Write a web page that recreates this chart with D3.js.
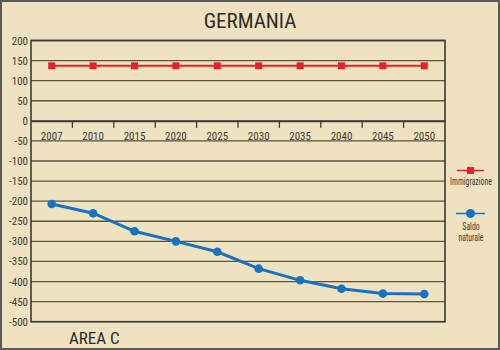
<!DOCTYPE html>
<html><head><meta charset="utf-8">
<script src="https://cdn.jsdelivr.net/npm/d3@7"></script>
<style>
html,body{margin:0;padding:0;background:#eee2c1;}
svg{display:block;}
text{font-family:"Liberation Sans Narrow","Roboto Condensed","Arial Narrow",Roboto,sans-serif;}
</style></head>
<body>
<svg id="c" width="500" height="350"></svg>
<script>
const years = ["2007","2010","2015","2020","2025","2030","2035","2040","2045","2050"];
const immigrazione = [137,137,137,137,137,137,137,137,137,137];
const saldoNaturale = [-207,-230,-275,-300,-326,-368,-397,-418,-430,-431];
const yTicks = [200,150,100,50,0,-50,-100,-150,-200,-250,-300,-350,-400,-450,-500];

const svg = d3.select("#c");
const W = 500, H = 350;
const L = 31, R = 445, T = 40.5, B = 321.7;
const grid = "#5b5242";

svg.append("rect").attr("x",1).attr("y",1).attr("width",W-2).attr("height",H-2)
  .attr("fill","#eee2c1").attr("stroke","#5a5a5a").attr("stroke-width",2);

const x = d3.scaleBand().domain(years).range([L,R]).padding(0);
const y = d3.scaleLinear().domain([-500,200]).range([B,T]);

// gridlines
svg.append("g").selectAll("line").data(yTicks).join("line")
  .attr("x1",L).attr("x2",R).attr("y1",d=>y(d)).attr("y2",d=>y(d))
  .attr("stroke",grid).attr("stroke-width",1.3);

// y axis labels
const ya = svg.append("g").attr("transform",`translate(${L},0)`)
  .call(d3.axisLeft(y).tickValues(yTicks).tickSize(0).tickPadding(3).tickFormat(d=>String(d)));
ya.select(".domain").remove();
ya.selectAll("text").attr("font-size",11).attr("fill","#3c3a36")
  .attr("font-family",'"Liberation Sans Narrow","Roboto Condensed",Roboto,sans-serif');

// frame
svg.append("rect").attr("x",L).attr("y",T).attr("width",R-L).attr("height",B-T)
  .attr("fill","none").attr("stroke","#3d3a33").attr("stroke-width",1.6);

// zero axis with category ticks between bands
const xa = svg.append("g").attr("transform",`translate(0,${y(0)})`)
  .call(d3.axisBottom(x).tickSize(0).tickPadding(11));
xa.select(".domain").attr("stroke","#3d3a33").attr("stroke-width",1.6);
xa.selectAll("text").attr("font-size",11).attr("fill","#3c3a36")
  .attr("font-family",'"Liberation Sans Narrow","Roboto Condensed",Roboto,sans-serif');
svg.append("g").selectAll("line").data(years.slice(1)).join("line")
  .attr("x1",d=>x(d)).attr("x2",d=>x(d)).attr("y1",y(0)).attr("y2",y(0)+7)
  .attr("stroke","#3d3a33").attr("stroke-width",1.3);

const cx = d=>x(d)+x.bandwidth()/2;
const red = "#ea1f2b", blue = "#1673c2";

// Immigrazione
svg.append("path").datum(immigrazione)
  .attr("d", d3.line().x((d,i)=>cx(years[i])).y(d=>y(d)))
  .attr("fill","none").attr("stroke",red).attr("stroke-width",2);
svg.append("g").selectAll("rect").data(immigrazione).join("rect")
  .attr("x",(d,i)=>cx(years[i])-3.5).attr("y",d=>y(d)-3.5).attr("width",7).attr("height",7).attr("fill",red);

// Saldo naturale
svg.append("path").datum(saldoNaturale)
  .attr("d", d3.line().x((d,i)=>cx(years[i])).y(d=>y(d)))
  .attr("fill","none").attr("stroke",blue).attr("stroke-width",3);
svg.append("g").selectAll("circle").data(saldoNaturale).join("circle")
  .attr("cx",(d,i)=>cx(years[i])).attr("cy",d=>y(d)).attr("r",4.3).attr("fill",blue);

// Title
svg.append("text").attr("x",250).attr("y",28).attr("text-anchor","middle")
  .attr("font-size",21).attr("fill","#2e2c28").text("GERMANIA");
svg.append("text").attr("x",69).attr("y",344)
  .attr("font-size",17).attr("fill","#2e2c28").text("AREA C");

// Legend
const lg = svg.append("g");
lg.append("line").attr("x1",457).attr("x2",484).attr("y1",170.5).attr("y2",170.5).attr("stroke",red).attr("stroke-width",1.5);
lg.append("rect").attr("x",467).attr("y",167).attr("width",7).attr("height",7).attr("fill",red);
lg.append("line").attr("x1",456).attr("x2",485).attr("y1",213.5).attr("y2",213.5).attr("stroke",blue).attr("stroke-width",1.5);
lg.append("circle").attr("cx",470.5).attr("cy",213.5).attr("r",4.5).attr("fill",blue);
const lt = lg.append("g").attr("transform","translate(471,0) scale(0.78,1)");
lt.append("text").attr("x",0).attr("y",185).attr("text-anchor","middle").attr("font-size",10).attr("fill","#3c3a36").text("Immigrazione");
lt.append("text").attr("x",0).attr("y",230).attr("text-anchor","middle").attr("font-size",10).attr("fill","#3c3a36").text("Saldo");
lt.append("text").attr("x",0).attr("y",241).attr("text-anchor","middle").attr("font-size",10).attr("fill","#3c3a36").text("naturale");
</script>
</body></html>
